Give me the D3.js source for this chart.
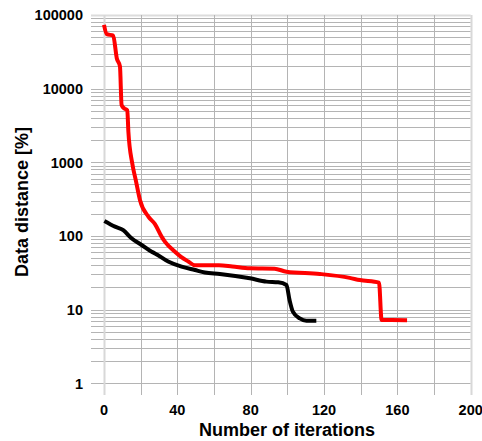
<!DOCTYPE html>
<html><head><meta charset="utf-8">
<script src="https://cdn.jsdelivr.net/npm/d3@7"></script>
<style>body{margin:0;background:#fff}svg{display:block}</style>
</head><body>
<svg id="c" width="482" height="441"></svg>
<script>
const xTicks = [0, 40, 80, 120, 160, 200];
const xGrid = [0, 20, 40, 60, 80, 100, 120, 140, 160, 180, 200];
const yTicks = [1, 10, 100, 1000, 10000, 100000];
const yTickLabels = ["1", "10", "100", "1000", "10000", "100000"];

const redX = [0, 1.5, 5, 7, 8.7, 9.6, 11, 12.7, 13.3, 15.4, 17.3, 19.6, 24.2, 27.8, 31.4, 33.2, 38.7, 42, 46, 49.6, 62.7, 70, 79.6, 93, 99.5, 117.7, 134, 139.5, 150, 151.4, 165.3];
const redY = [73300, 55000, 52500, 25700, 20000, 6000, 5400, 5100, 2600, 970, 577, 309, 183, 145, 98, 84, 61, 52, 45, 40, 40, 38.5, 36.4, 36, 32.7, 30.5, 27, 25.2, 23.2, 7.24, 7.2];

const blackX = [0.2, 6, 10.5, 15, 20.5, 26, 27.8, 35, 42.3, 49.6, 55, 63.2, 79.6, 88.6, 95, 99.5, 101.2, 103, 106.8, 110.4, 115.8];
const blackY = [160, 134, 120, 93, 75.5, 61, 58, 45, 38.3, 34.5, 32, 30.5, 26.6, 24, 23.5, 21.6, 13.5, 9.4, 7.6, 7.08, 7.08];

const svg = d3.select("#c");
const x = d3.scaleLinear().domain([0, 200]).range([104, 470.7]);
const y = d3.scaleLog().domain([1, 100000]).range([383.3, 15]);

const font = "'Liberation Sans', Arial, sans-serif";

// horizontal grid (log minor ticks)
const hLines = [];
for (let d = 1; d <= 10000; d *= 10) for (let k = 1; k < 10; k++) hLines.push(d * k);
hLines.push(100000);
svg.append("g").selectAll("line").data(hLines).join("line")
  .attr("x1", 91).attr("x2", x(200))
  .attr("y1", d => Math.round(y(d)) + 0.5).attr("y2", d => Math.round(y(d)) + 0.5)
  .attr("stroke", d => (d === 100000 ? "#dcdcdc" : "#b4b4b4"))
  .attr("stroke-width", d => (d === 100000 ? 2 : 1));

// vertical grid
svg.append("g").selectAll("line").data(xGrid).join("line")
  .attr("x1", d => Math.round(x(d)) + 0.5).attr("x2", d => Math.round(x(d)) + 0.5)
  .attr("y1", 15).attr("y2", 395)
  .attr("stroke", d => (d === 0 || d === 200 ? "#d8d8d8" : "#b4b4b4"))
  .attr("stroke-width", d => (d === 0 || d === 200 ? 2 : 1));

// y tick labels
svg.append("g").selectAll("text").data(yTicks).join("text")
  .attr("x", 83).attr("y", d => y(d)).attr("dy", "0.36em")
  .attr("text-anchor", "end").attr("font-family", font).attr("font-weight", "bold")
  .attr("font-size", 14.5).attr("fill", "#000")
  .text((d, i) => yTickLabels[i]);

// x tick labels
svg.append("g").selectAll("text").data(xTicks).join("text")
  .attr("x", d => x(d)).attr("y", 410).attr("dy", "0.36em")
  .attr("text-anchor", "middle").attr("font-family", font).attr("font-weight", "bold")
  .attr("font-size", 14.5).attr("fill", "#000")
  .text(d => d);

// titles
svg.append("text").attr("x", 287).attr("y", 436)
  .attr("text-anchor", "middle").attr("font-family", font).attr("font-weight", "bold")
  .attr("font-size", 18).text("Number of iterations");
svg.append("text").attr("transform", "translate(28,202) rotate(-90)")
  .attr("text-anchor", "middle").attr("font-family", font).attr("font-weight", "bold")
  .attr("font-size", 18).text("Data distance [%]");

const line = d3.line().x(d => x(d[0])).y(d => y(d[1])).curve(d3.curveMonotoneX);
svg.append("path").datum(blackX.map((v, i) => [v, blackY[i]]))
  .attr("d", line).attr("fill", "none").attr("stroke", "#000").attr("stroke-width", 4)
  .attr("stroke-linejoin", "round");
svg.append("path").datum(redX.map((v, i) => [v, redY[i]]))
  .attr("d", line).attr("fill", "none").attr("stroke", "#ff0000").attr("stroke-width", 4)
  .attr("stroke-linejoin", "round");
</script>
</body></html>
